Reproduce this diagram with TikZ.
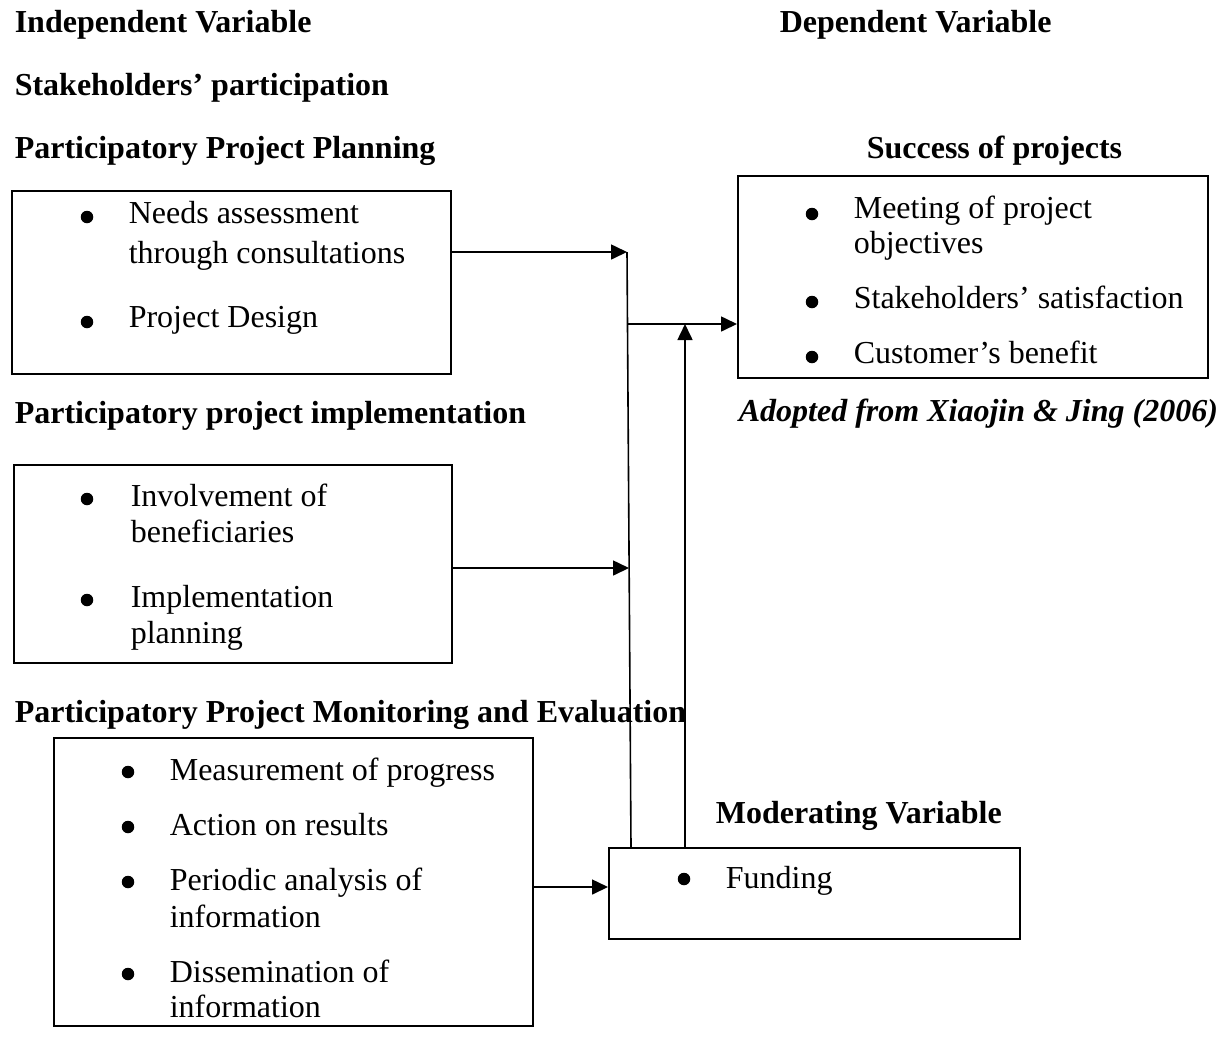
\documentclass[tikz,border=0pt]{standalone}
\usepackage{fontspec}
\setmainfont{Liberation Serif}
\usetikzlibrary{arrows.meta, positioning}

\begin{document}
\begin{tikzpicture}[x=1pt, y=-1pt, line width=1.6pt,
    every node/.style={font=\fontsize{32}{37}\selectfont, inner sep=0pt},
    head/.style={anchor=base west, font=\fontsize{32}{37}\selectfont\bfseries},
    txt/.style={anchor=base west},
    dot/.style={circle, fill, minimum size=12.5pt},
    box/.style={draw, anchor=north west},
    arr/.style={-{Triangle[length=16pt,width=15pt]}}]
  \useasboundingbox (0,0) rectangle (1222,1053);

  % headings
  \node[head] (indep) at (14,32) {Independent Variable};
  \node[head] (dep) at (779,32) {Dependent Variable};
  \node[head] (stake) at (14,95) {Stakeholders’ participation};
  \node[head] (hplan) at (14,158) {Participatory Project Planning};
  \node[head] (hsucc) at (866,158) {Success of projects};
  \node[head] (himpl) at (14,423) {Participatory project implementation};
  \node[head, font=\fontsize{32}{37}\selectfont\bfseries\itshape] (adopt) at (738,421)
    {Adopted from Xiaojin \& Jing (2006)};
  \node[head] (hmonit) at (14,722) {Participatory Project Monitoring and Evaluation};
  \node[head] (hmod) at (715,823) {Moderating Variable};

  % boxes
  \node[box, minimum width=439pt, minimum height=183pt] (plan) at (11,190) {};
  \node[box, minimum width=470pt, minimum height=202pt] (success) at (737,175) {};
  \node[box, minimum width=438pt, minimum height=198pt] (impl) at (13,464) {};
  \node[box, minimum width=479pt, minimum height=288pt] (monit) at (53,737) {};
  \node[box, minimum width=411pt, minimum height=91pt] (fund) at (608,847) {};

  % items
  \node[dot] (bp1) at (87,217) {};
  \node[txt] (p1) at (128,223) {Needs assessment};
  \node[txt] (p2) at (128,263) {through consultations};
  \node[dot] (bp2) at (87,322) {};
  \node[txt] (p3) at (128,327) {Project Design};

  \node[dot] (bs1) at (812,214) {};
  \node[txt] (s1) at (853,218) {Meeting of project};
  \node[txt] (s2) at (853,253) {objectives};
  \node[dot] (bs2) at (812,302) {};
  \node[txt] (s3) at (853,308) {Stakeholders’ satisfaction};
  \node[dot] (bs3) at (812,357) {};
  \node[txt] (s4) at (853,363) {Customer’s benefit};

  \node[dot] (bi1) at (87,499) {};
  \node[txt] (i1) at (130,506) {Involvement of};
  \node[txt] (i2) at (130,542) {beneficiaries};
  \node[dot] (bi2) at (87,600) {};
  \node[txt] (i3) at (130,607) {Implementation};
  \node[txt] (i4) at (130,643) {planning};

  \node[dot] (bm1) at (128,772) {};
  \node[txt] (m1) at (169,780) {Measurement of progress};
  \node[dot] (bm2) at (128,827) {};
  \node[txt] (m2) at (169,835) {Action on results};
  \node[dot] (bm3) at (128,882) {};
  \node[txt] (m3) at (169,890) {Periodic analysis of};
  \node[txt] (m4) at (169,927) {information};
  \node[dot] (bm4) at (128,974) {};
  \node[txt] (m5) at (169,982) {Dissemination of};
  \node[txt] (m6) at (169,1017) {information};

  \node[dot] (bf1) at (684,879) {};
  \node[txt] (f1) at (725,888) {Funding};

  % connectors
  \coordinate (j1) at (627,252);
  \coordinate (j2) at (629,568);
  \coordinate (j3) at (627.5,324);
  \coordinate (j4) at (631,847);
  \coordinate (j5) at (608,887);
  \coordinate (up) at (685,324);
  \draw[arr] (plan.east |- j1) -- (j1);
  \draw[arr] (impl.east |- j2) -- (j2);
  \draw (j1) -- (j4);
  \draw[arr] (j3) -- (j3 -| success.west);
  \draw[arr] (fund.north -| up) -- (up);
  \draw[arr] (monit.east |- j5) -- (j5);
\end{tikzpicture}
\end{document}
